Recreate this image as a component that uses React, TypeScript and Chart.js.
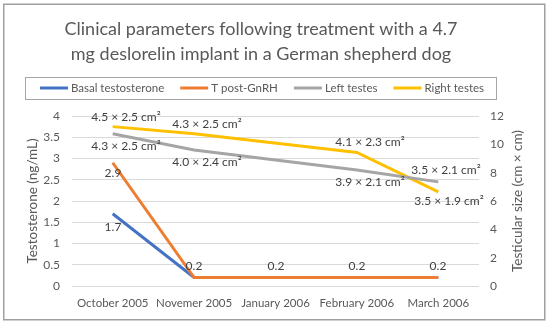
import React, { useEffect, useRef } from 'react';
import { Chart, registerables } from 'chart.js';

Chart.register(...registerables);

const categories = ['October 2005', 'Novemer 2005', 'January 2006', 'February 2006', 'March 2006'];
const basalTestosterone = [1.7, 0.2, 0.2, 0.2, 0.2];
const tPostGnRH = [2.9, 0.2, 0.2, 0.2, 0.2];
const leftLength: (number | null)[] = [4.3, 4.0, null, 3.9, 3.5];
const leftWidth: (number | null)[] = [2.5, 2.4, null, 2.1, 2.1];
const rightLength: (number | null)[] = [4.5, 4.3, null, 4.1, 3.5];
const rightWidth: (number | null)[] = [2.5, 2.5, null, 2.3, 1.9];
const seriesNames = ['Basal testosterone', 'T post-GnRH', 'Left testes', 'Right testes'];
const leftAxisTitle = 'Testosterone (ng/mL)';
const rightAxisTitle = 'Testicular size (cm × cm)';
const titleLines = ['Clinical parameters following treatment with a 4.7', 'mg deslorelin implant in a German shepherd dog'];

const FONT = 'Lato, "Open Sans", sans-serif';
const TEXT = '#595959';
const LABEL = '#404040';

const area = (l: (number | null)[], w: (number | null)[]) =>
  l.map((v, i) => (v == null || w[i] == null ? null : Math.round(v * (w[i] as number) * 100) / 100));
const sizeText = (l: (number | null)[], w: (number | null)[]) =>
  l.map((v, i) => (v == null || w[i] == null ? null : `${v.toFixed(1)} × ${(w[i] as number).toFixed(1)} cm²`));
const numText = (a: number[]) => a.map((v) => String(v));

const leftArea = area(leftLength, leftWidth);
const rightArea = area(rightLength, rightWidth);

// label placement style per series: function of point index -> [dx, dy]
const placeBasal = (i: number) => (i === 0 ? [0, 13] : [0, -12]);
const placePost = (i: number) => (i === 0 ? [0, 10] : [0, -12]);
const placeLeft = (i: number) => (i === 4 ? [8, -12] : [13, 12]);
const placeRight = (i: number) => (i === 4 ? [11, 9] : [13, -10]);

const labelPlugin = {
  id: 'pointLabels',
  afterDatasetsDraw(chart: any) {
    const ctx = chart.ctx;
    ctx.save();
    ctx.font = `12px ${FONT}`;
    ctx.fillStyle = LABEL;
    ctx.textAlign = 'center';
    ctx.textBaseline = 'middle';
    const seen = new Set<string>();
    chart.data.datasets.forEach((ds: any, di: number) => {
      const meta = chart.getDatasetMeta(di);
      meta.data.forEach((pt: any, i: number) => {
        const t = ds.labelTexts[i];
        if (!t || pt.skip) return;
        const [dx, dy] = ds.labelPlace(i);
        const x = Math.round(pt.x + dx);
        const y = Math.round(pt.y + dy);
        const key = `${t}|${x}|${y}`;
        if (seen.has(key)) return;
        seen.add(key);
        ctx.fillText(t, x, y);
      });
    });
    ctx.restore();
  },
};

const decorPlugin = {
  id: 'decor',
  beforeDraw(chart: any) {
    const ctx = chart.ctx;
    ctx.save();
    ctx.fillStyle = '#ffffff';
    ctx.fillRect(0, 0, chart.width, chart.height);
    ctx.restore();
  },
  afterDraw(chart: any) {
    const ctx = chart.ctx;
    const ca = chart.chartArea;

    // chart title
    ctx.save();
    ctx.font = `18px ${FONT}`;
    ctx.fillStyle = TEXT;
    ctx.textAlign = 'center';
    ctx.textBaseline = 'middle';
    titleLines.forEach((line, i) => ctx.fillText(line, 261, 29.5 + i * 25));
    ctx.restore();

    // right axis title (reads bottom to top)
    ctx.save();
    ctx.font = `13.5px ${FONT}`;
    ctx.fillStyle = TEXT;
    ctx.textAlign = 'center';
    ctx.textBaseline = 'middle';
    ctx.translate(518, (ca.top + ca.bottom) / 2);
    ctx.rotate(-Math.PI / 2);
    ctx.fillText(rightAxisTitle, 0, 0);
    ctx.restore();

    // legend
    ctx.save();
    ctx.font = `11.5px ${FONT}`;
    const markerW = 28;
    const gap = 3;
    const itemGap = 16;
    const items = chart.data.datasets.map((ds: any) => ({ text: ds.label, color: ds.borderColor }));
    const widths = items.map((it: any) => markerW + gap + ctx.measureText(it.text).width);
    const total = widths.reduce((a: number, b: number) => a + b, 0) + itemGap * (items.length - 1);
    const cx = 262;
    const cy = 88;
    let x = cx - total / 2;
    const startX = x;
    ctx.textBaseline = 'middle';
    ctx.textAlign = 'left';
    items.forEach((it: any, k: number) => {
      ctx.strokeStyle = it.color;
      ctx.lineWidth = 3;
      ctx.beginPath();
      ctx.moveTo(x, cy);
      ctx.lineTo(x + markerW, cy);
      ctx.stroke();
      ctx.fillStyle = TEXT;
      ctx.fillText(it.text, x + markerW + gap, cy + 0.5);
      x += widths[k] + itemGap;
    });
    const endX = x - itemGap;
    ctx.strokeStyle = '#a6a6a6';
    ctx.lineWidth = 1;
    ctx.strokeRect(Math.round(startX - 15) + 0.5, 77.5, Math.round(endX - startX + 27), 22);

    // outer border
    ctx.strokeStyle = '#a0a0a0';
    ctx.lineWidth = 1.5;
    ctx.strokeRect(3.75, 4.25, 541, 315.5);
    ctx.restore();
  },
};

export default function App() {
  const ref = useRef<HTMLCanvasElement | null>(null);

  useEffect(() => {
    if (!ref.current) return;
    const chart = new Chart(ref.current, {
      type: 'line',
      data: {
        labels: categories,
        datasets: [
          {
            label: seriesNames[0],
            data: basalTestosterone,
            borderColor: '#4472C4',
            backgroundColor: '#4472C4',
            yAxisID: 'y',
            order: 1,
            labelTexts: numText(basalTestosterone),
            labelPlace: placeBasal,
          } as any,
          {
            label: seriesNames[1],
            data: tPostGnRH,
            borderColor: '#ED7D31',
            backgroundColor: '#ED7D31',
            yAxisID: 'y',
            order: 0,
            labelTexts: numText(tPostGnRH),
            labelPlace: placePost,
          } as any,
          {
            label: seriesNames[2],
            data: leftArea,
            borderColor: '#A5A5A5',
            backgroundColor: '#A5A5A5',
            yAxisID: 'y1',
            spanGaps: true,
            order: 0,
            labelTexts: sizeText(leftLength, leftWidth),
            labelPlace: placeLeft,
          } as any,
          {
            label: seriesNames[3],
            data: rightArea,
            borderColor: '#FFC000',
            backgroundColor: '#FFC000',
            yAxisID: 'y1',
            spanGaps: true,
            order: 0,
            labelTexts: sizeText(rightLength, rightWidth),
            labelPlace: placeRight,
          } as any,
        ],
      },
      options: {
        responsive: false,
        animation: false,
        devicePixelRatio: 1,
        layout: { padding: { left: 0, right: 24, top: 116, bottom: 0 } },
        elements: {
          line: { borderWidth: 3, tension: 0, borderCapStyle: 'butt', borderJoinStyle: 'miter' },
          point: { radius: 0, hoverRadius: 0 },
        },
        plugins: {
          legend: { display: false },
          tooltip: { enabled: false },
          title: { display: false },
        },
        scales: {
          x: {
            offset: true,
            grid: { display: false },
            border: { display: false },
            ticks: { color: TEXT, font: { family: FONT, size: 11.5 }, padding: 2, maxRotation: 0, autoSkip: false },
            afterFit: (s: any) => {
              s.height = 38;
            },
          },
          y: {
            position: 'left',
            min: 0,
            max: 4,
            grid: { color: '#d9d9d9', drawTicks: false, lineWidth: 1 },
            border: { display: false },
            ticks: {
              stepSize: 0.5,
              color: TEXT,
              font: { family: FONT, size: 12 },
              padding: 12,
              callback: (v: any) => String(Math.round(Number(v) * 10) / 10),
            },
            title: {
              display: true,
              text: leftAxisTitle,
              color: TEXT,
              font: { family: FONT, size: 13.5 },
              padding: { top: 25, bottom: 0 },
            },
            afterFit: (s: any) => {
              s.width = 72;
            },
          },
          y1: {
            position: 'right',
            min: 0,
            max: 12,
            grid: { display: false, drawTicks: false },
            border: { display: false },
            ticks: { stepSize: 2, color: TEXT, font: { family: FONT, size: 12 }, padding: 11 },
            afterFit: (s: any) => {
              s.width = 47;
            },
          },
        },
      } as any,
      plugins: [labelPlugin, decorPlugin],
    });
    return () => chart.destroy();
  }, []);

  return (
    <div style={{ position: 'absolute', left: 0, top: 0, width: 550, height: 324 }}>
      <canvas ref={ref} width={550} height={324} style={{ width: 550, height: 324, display: 'block' }} />
    </div>
  );
}
